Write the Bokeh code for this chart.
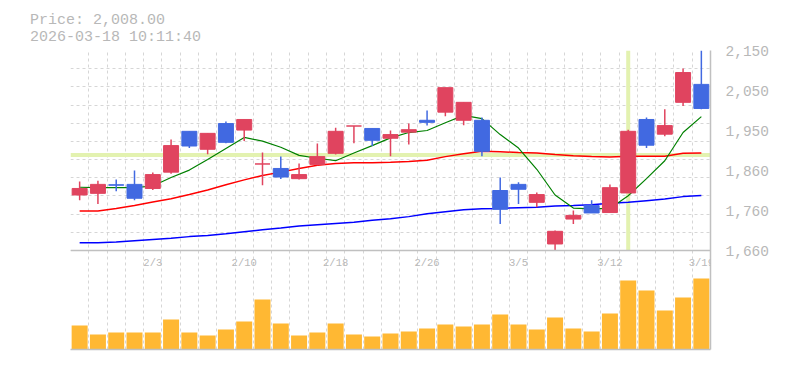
import numpy as np
from bokeh.plotting import figure
from bokeh.models import Range1d, LinearAxis, FixedTicker, Span, Title, ColumnDataSource, Grid, LabelSet
from bokeh.embed import file_html
from bokeh.resources import INLINE
from bokeh.core.properties import value

# ---------------- data ----------------
price_label = "Price: 2,008.00"
timestamp = "2026-03-18 10:11:40"

dates = ["1/28", "1/29", "1/30", "2/2", "2/3", "2/4", "2/5", "2/6", "2/9", "2/10",
         "2/12", "2/13", "2/16", "2/17", "2/18", "2/19", "2/20", "2/24", "2/25", "2/26",
         "2/27", "3/2", "3/3", "3/4", "3/5", "3/6", "3/9", "3/10", "3/11", "3/12",
         "3/13", "3/16", "3/17", "3/18", "3/19"]

open_ = [1796, 1800, 1821, 1822, 1812, 1852, 1952, 1908, 1971, 1955,
         1872, 1861, 1836, 1871, 1898, 1965, 1959, 1935, 1950, 1979,
         1999, 1979, 1979, 1807, 1822, 1778, 1676, 1737, 1770, 1753,
         1801, 1981, 1945, 2023, 2067]
high = [1829, 1831, 1834, 1856, 1851, 1932, 1952, 1947, 1976, 1981,
        1900, 1890, 1873, 1922, 1961, 1965, 1959, 1954, 1971, 2003,
        2059, 2023, 1986, 1839, 1827, 1802, 1709, 1758, 1783, 1822,
        1956, 1986, 2006, 2106, 2150]
low = [1783, 1774, 1805, 1783, 1808, 1848, 1911, 1896, 1923, 1928,
       1820, 1835, 1834, 1868, 1895, 1923, 1916, 1891, 1920, 1966,
       1989, 1967, 1891, 1725, 1774, 1766, 1660, 1725, 1752, 1753,
       1801, 1911, 1940, 2014, 2006]
close = [1812, 1822, 1820, 1788, 1846, 1917, 1916, 1947, 1925, 1981,
         1872, 1840, 1846, 1890, 1952, 1965, 1930, 1944, 1956, 1974,
         2059, 2023, 1903, 1761, 1810, 1797, 1707, 1746, 1752, 1814,
         1952, 1918, 1966, 2096, 2008]

ma_short = [1815, 1814, 1814, 1814, 1818, 1839, 1857, 1883, 1910, 1937,
            1928, 1913, 1893, 1886, 1880, 1899, 1917, 1936, 1949, 1954,
            1973, 1991, 1983, 1944, 1911, 1859, 1796, 1764, 1762, 1763,
            1794, 1836, 1880, 1949, 1988]
ma_mid = [1757, 1757, 1763, 1770, 1779, 1787, 1797, 1808, 1821, 1833,
          1844, 1852, 1861, 1869, 1873, 1875, 1875, 1876, 1878, 1881,
          1890, 1897, 1903, 1902, 1900, 1899, 1895, 1892, 1890, 1889,
          1891, 1891, 1891, 1898, 1899]
ma_long = [1679, 1679, 1681, 1684, 1687, 1690, 1694, 1697, 1701, 1706,
           1711, 1715, 1720, 1723, 1726, 1729, 1734, 1738, 1743, 1750,
           1755, 1760, 1762, 1763, 1765, 1766, 1769, 1770, 1772, 1776,
           1778, 1782, 1786, 1792, 1795]

volume = [720, 450, 510, 510, 510, 900, 510, 420, 600, 840,
          1500, 780, 420, 510, 780, 450, 390, 480, 540, 630,
          750, 690, 750, 1050, 750, 600, 960, 630, 540, 1080,
          2070, 1770, 1170, 1560, 2130]

price_ticks = [1660, 1758, 1856, 1954, 2052, 2150]
price_tick_labels = ["1,660", "1,760", "1,860", "1,950", "2,050", "2,150"]
date_tick_labels = ["2/3", "2/10", "2/18", "2/26", "3/5", "3/12", "3/19"]

cross_idx = 30
cross_price = 1894

# ---------------- styling / layout ----------------
UP = "#e0445f"
DOWN = "#4169e1"
VOLC = "#ffb833"
TXT = "#b8b8b8"
GRIDC = "#d6d6d6"
AXC = "#c0c0c0"
CROSS = "#e3f2b0"
FONT = "Liberation Mono"

n = len(dates)
xs = list(range(n))
PMIN, PMAX = price_ticks[0], price_ticks[-1]
FRAME_W, FRAME_H, PRICE_H = 640, 299, 200
BORDER_L, BORDER_R, BORDER_T, BORDER_B = 70, 67, 50, 10
ybottom = PMAX - FRAME_H * (PMAX - PMIN) / PRICE_H
vol_top = max(volume) * FRAME_H / 71.0

p = figure(frame_width=FRAME_W, frame_height=FRAME_H,
           x_range=Range1d(-0.5, n - 0.5), y_range=Range1d(ybottom, PMAX),
           output_backend="svg", toolbar_location=None,
           x_axis_location=None, y_axis_location=None,
           min_border_left=BORDER_L, min_border_right=BORDER_R,
           min_border_top=BORDER_T, min_border_bottom=BORDER_B,
           background_fill_color="white", border_fill_color="white",
           outline_line_color=None)
p.extra_y_ranges = {"vol": Range1d(0, vol_top)}

p.center = [r for r in p.center if not isinstance(r, Grid)]
vgrid = Grid(dimension=0, ticker=FixedTicker(ticks=[i - 0.5 for i in range(n + 1)]),
             grid_line_color=GRIDC, grid_line_dash="3 3", grid_line_width=1)
hgrid = Grid(dimension=1, ticker=FixedTicker(ticks=list(np.linspace(PMIN, PMAX, 12))),
             grid_line_color=GRIDC, grid_line_dash="3 3", grid_line_width=1)
p.add_layout(vgrid)
p.add_layout(hgrid)

# axes
yaxis = LinearAxis(ticker=FixedTicker(ticks=price_ticks),
                   major_label_overrides={t: l for t, l in zip(price_ticks, price_tick_labels)},
                   axis_line_color=AXC, axis_line_width=1.5,
                   major_tick_line_color=None, minor_tick_line_color=None,
                   major_label_standoff=9,
                   major_label_text_font=FONT, major_label_text_font_size="14.5px",
                   major_label_text_color=TXT)
p.add_layout(yaxis, "right")
xaxis = LinearAxis(ticker=FixedTicker(ticks=[]), axis_line_color=AXC, axis_line_width=1.5,
                   major_tick_line_color=None, minor_tick_line_color=None,
                   major_label_text_font_size="0px", major_label_standoff=0)
p.add_layout(xaxis, "below")

# crosshair (behind candles)
p.segment(x0=[cross_idx], y0=[PMIN], x1=[cross_idx], y1=[PMAX], line_color=CROSS, line_width=4)
p.segment(x0=[-0.5], y0=[cross_price], x1=[n - 0.5], y1=[cross_price], line_color=CROSS, line_width=4)

# separator between price and volume panels
p.add_layout(Span(location=PMIN, dimension="width", line_color=AXC, line_width=1.5))

# volume
p.vbar(x=xs, width=0.875, top=volume, bottom=0, y_range_name="vol",
       fill_color=VOLC, line_color=None)

# moving averages
p.line(xs, ma_long, line_color="#0000ff", line_width=1.5)
p.line(xs, ma_mid, line_color="#ff0000", line_width=1.5)
p.line(xs, ma_short, line_color="#008000", line_width=1.2)

# candles
colors = [UP if c >= o else DOWN for o, c in zip(open_, close)]
src = ColumnDataSource(dict(x=xs, high=high, low=low,
                            top=[max(o, c) for o, c in zip(open_, close)],
                            bottom=[min(o, c) for o, c in zip(open_, close)],
                            color=colors))
p.segment(x0="x", y0="high", x1="x", y1="low", line_color="color", line_width=1.5, source=src)
p.vbar(x="x", width=0.82, top="top", bottom="bottom", fill_color="color",
       line_color="color", line_width=1, source=src)

# date labels inside the volume panel (12 px below the panel's top edge)
tick_x = [dates.index(t) for t in date_tick_labels]
label_y = vol_top * (FRAME_H - PRICE_H - 12) / FRAME_H
lab_src = ColumnDataSource(dict(x=tick_x, y=[label_y] * len(tick_x), text=date_tick_labels))
p.add_layout(LabelSet(x="x", y="y", text="text", source=lab_src, y_range_name="vol",
                      text_font=value(FONT), text_font_size=value("10.5px"),
                      text_color=TXT, text_align="center", text_baseline="middle"))

# header texts (two-line title, shifted left of the frame)
p.add_layout(Title(text=price_label + "\n" + timestamp, align="left", offset=29.5 - BORDER_L,
                   standoff=9, text_font=FONT, text_font_size="15px", text_font_style="normal",
                   text_color=TXT, text_line_height=1.0), "above")

open("out.html", "w").write(file_html(p, INLINE))
